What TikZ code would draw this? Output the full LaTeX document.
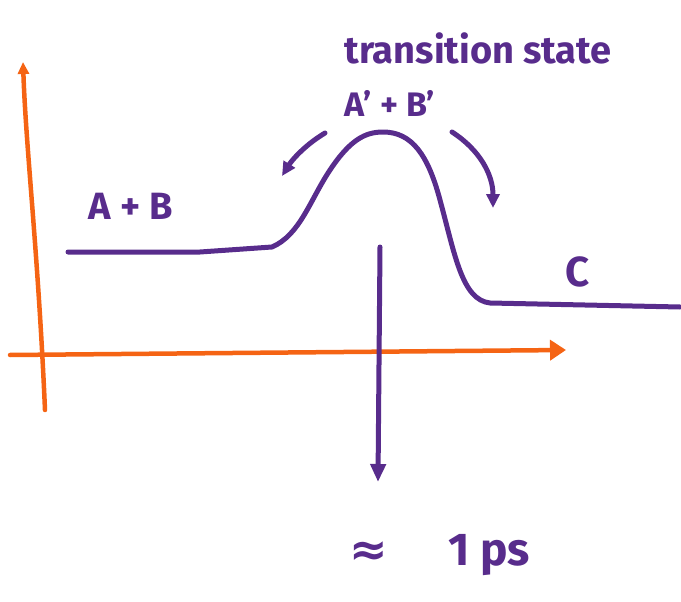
\documentclass[tikz,border=0pt]{standalone}
\usepackage{fontspec}
\setmainfont{Fira Sans}
\newfontfamily\symfont{DejaVu Sans}
\usepackage{tikz}
\usetikzlibrary{arrows.meta}
\definecolor{pen}{RGB}{88,44,140}
\definecolor{axiscol}{RGB}{245,100,20}

\begin{document}
\begin{tikzpicture}[x=1pt,y=-1pt,
  penline/.style={draw=pen,line width=5pt,line cap=round,line join=round},
  axisline/.style={draw=axiscol,line width=4.5pt,line cap=round,line join=round},
  lbl/.style={text=pen,font=\bfseries\fontsize{34}{38}\selectfont}]
\useasboundingbox (0,0) rectangle (681,602);
% axes:
\coordinate (ybot) at (45,410);
\coordinate (ytop) at (23,62);
\coordinate (xl) at (10,355);
\coordinate (xr) at (566,350);
\draw[axisline,-{Triangle[length=12pt,width=11pt]}] (ybot) .. controls (38,250) and (26,150) .. (ytop);
\draw[axisline,-{Triangle[length=16pt,width=20pt]}] (xl) -- (xr);
% energy curve:
\coordinate (peak) at (383,132);
\draw[penline] (68,252) -- (200,252) -- (272,247)
  .. controls (300,235) and (310,200) .. (330,170)
  .. controls (350,140) and (365,132) .. (peak)
  .. controls (412,132) and (428,155) .. (440,200)
  .. controls (455,255) and (462,300) .. (490,303) -- (680,307);
% labels:
\node[lbl,font=\bfseries\fontsize{38}{40}\selectfont] (ts) at (478,48) {transition state};
\node[lbl] (act) at (390,103) {A' + B'};
\node[lbl,font=\bfseries\fontsize{38}{40}\selectfont] (ab) at (131,206) {A + B};
\node[lbl,font=\bfseries\fontsize{42}{44}\selectfont] (prod) at (578,272) {C};
\node[lbl,font=\bfseries\fontsize{46}{50}\selectfont] (time) at (440,555) {{\symfont ≈}\hspace{1.3em}1 ps};
% arrows:
\coordinate (la1) at (325,133);
\coordinate (la2) at (282,176);
\coordinate (ra1) at (452,132);
\coordinate (ra2) at (493,208);
\coordinate (vtop) at (380,247);
\coordinate (vbot) at (378,482);
\draw[penline,-{Triangle[length=14pt,width=13pt]}] (la1) .. controls (305,145) and (292,160) .. (la2);
\draw[penline,-{Triangle[length=14pt,width=13pt]}] (ra1) .. controls (480,150) and (493,175) .. (ra2);
\draw[penline,-{Triangle[length=18pt,width=15pt]}] (vtop) -- (vbot);
\end{tikzpicture}
\end{document}
